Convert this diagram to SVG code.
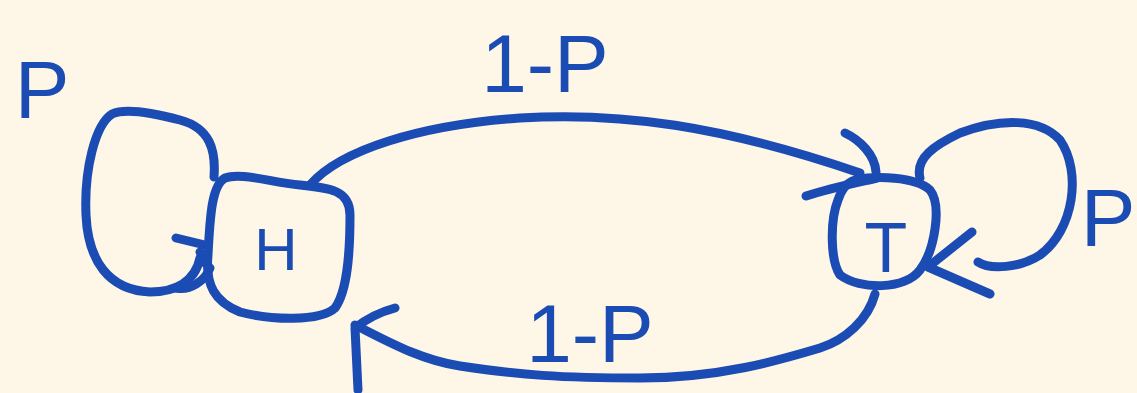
<svg xmlns="http://www.w3.org/2000/svg" width="1137" height="393" viewBox="0 0 1137 393">
<style>
.s{fill:none;stroke:#1a4cb4;stroke-width:9;stroke-linecap:round;stroke-linejoin:round}
.t{fill:#1a4cb4;font-family:"Liberation Sans",Arial,sans-serif;font-size:60px}
.l{font-size:82px}
</style>
<rect width="1137" height="393" fill="#fef6e7"/>
<g id="connectors">
<path class="s" d="M214,177 C216,150 210,128 180,120 C150,112 125,108 112,114 C95,125 84,170 86,215 C88,260 108,290 150,292 C175,292 195,282 200,258"/>
<path class="s" d="M176,238 L205,245 M200,252 L205,263 M176,288 C190,291 205,281 210,268"/>
<path class="s" d="M310,185 C340,150 420,125 520,118 C620,112 720,125 860,173"/>
<path class="s" d="M845,133 C860,140 875,155 876,172 M806,196 C830,188 860,182 877,178"/>
<path class="s" d="M920,178 C915,158 935,145 960,133 C1000,118 1040,118 1060,140 C1082,172 1074,230 1040,255 C1020,268 990,270 978,262"/>
<path class="s" d="M972,232 L928,267 L990,294"/>
<path class="s" d="M875,294 C868,320 845,340 820,348 C780,360 720,378 640,378 C560,378 520,375 460,366 C420,360 385,340 355,325"/>
<path class="s" d="M395,308 C380,312 365,320 355,328 L358,390"/>
</g>
<g id="node-H">
<path class="s" d="M225,178 C240,172 270,182 300,185 C330,188 350,190 350,215 C350,250 348,290 335,308 C320,322 270,320 240,312 C215,302 205,285 208,255 C210,215 212,185 225,178 Z"/>
<text class="t" x="276" y="270" text-anchor="middle">H</text>
</g>
<g id="node-T">
<path class="s" d="M855,180 C875,176 915,176 930,190 C942,205 935,250 920,270 C905,290 860,290 840,275 C830,260 830,220 838,200 C842,188 848,182 855,180 Z"/>
<text class="t" x="886" y="272" text-anchor="middle" style="font-size:70px">T</text>
</g>
<g id="labels">
<text class="t l" x="545" y="92" text-anchor="middle">1-P</text>
<text class="t l" x="590" y="362" text-anchor="middle">1-P</text>
<text class="t l" x="42" y="118" text-anchor="middle">P</text>
<text class="t l" x="1108" y="246" text-anchor="middle">P</text>
</g>
</svg>
